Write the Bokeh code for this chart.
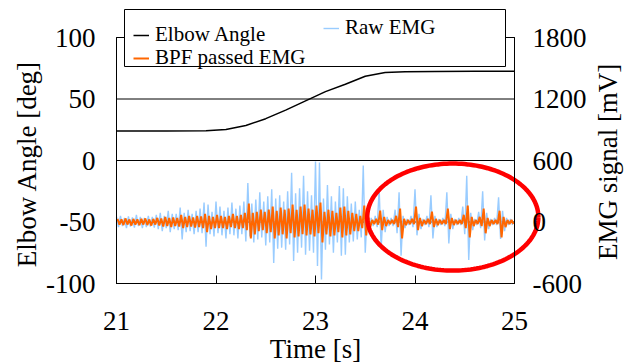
import numpy as np
from bokeh.plotting import figure
from bokeh.models import (Range1d, LinearAxis, FixedTicker, Legend, LegendItem,
                          Label, PrintfTickFormatter)
from bokeh.embed import file_html
from bokeh.resources import INLINE

# ---------------- data ----------------
# Elbow angle [deg] vs time [s]
angle_time = [21.0, 21.5, 21.9, 22.1, 22.3, 22.5, 22.7, 22.9, 23.1, 23.3,
              23.5, 23.7, 23.9, 24.2, 24.6, 25.0]
angle_deg = [24.0, 24.0, 24.2, 25.2, 28.5, 34.0, 41.0, 48.5, 56.0, 62.0,
             68.5, 71.5, 72.2, 72.4, 72.6, 72.6]

# EMG, read as max / min per 0.04 s window [mV]
emg_window_start = 21.0
emg_window = 0.04
raw_hi = [50, 60, 40, 55, 45, 70, 50, 40, 60, 50,
          70, 90, 60, 110, 80, 80, 140, 90, 120, 80,
          110, 130, 190, 170, 100, 200, 150, 110, 140, 190,
          130, 160, 200, 380, 180, 220, 290, 200, 250, 320,
          230, 260, 200, 300, 480, 280, 330, 450, 300, 260,
          590, 580, 230, 360, 250, 200, 350, 330, 250, 180,
          200, 120, 550, 100, 40, 60, 320, 120, 50, 40,
          120, 290, 60, 30, 60, 320, 80, 30, 60, 260,
          60, 30, 40, 290, 80, 30, 40, 150, 450, 90,
          30, 100, 300, 90, 30, 40, 240, 110, 40, 30]
raw_lo = [-50, -40, -60, -45, -55, -40, -60, -50, -45, -55,
          -70, -90, -60, -100, -70, -80, -170, -100, -90, -120,
          -100, -110, -240, -120, -140, -110, -130, -160, -120, -130,
          -160, -120, -190, -140, -200, -170, -150, -230, -200, -400,
          -260, -250, -270, -220, -380, -300, -250, -320, -280, -300,
          -430, -560, -270, -220, -300, -200, -330, -320, -200, -190,
          -170, -150, -300, -120, -40, -50, -260, -100, -40, -40,
          -110, -330, -60, -30, -50, -130, -70, -30, -50, -160,
          -50, -30, -40, -210, -70, -30, -30, -120, -370, -80,
          -30, -60, -180, -70, -30, -30, -165, -90, -30, -30]
bpf_hi = [30, 25, 35, 25, 30, 25, 30, 35, 25, 30,
          40, 35, 50, 40, 45, 40, 70, 50, 60, 45,
          60, 55, 80, 60, 50, 70, 60, 50, 60, 80,
          60, 70, 90, 180, 90, 100, 120, 100, 120, 150,
          110, 140, 120, 130, 170, 120, 150, 170, 130, 120,
          160, 190, 100, 120, 110, 90, 140, 150, 110, 90,
          80, 60, 160, 50, 20, 30, 110, 50, 20, 20,
          60, 130, 30, 20, 30, 150, 40, 20, 30, 100,
          30, 20, 20, 130, 40, 20, 20, 70, 160, 50,
          20, 50, 130, 40, 20, 20, 110, 50, 20, 20]
bpf_lo = [-25, -30, -25, -35, -25, -30, -25, -30, -35, -25,
          -35, -45, -40, -50, -40, -45, -60, -50, -45, -55,
          -50, -60, -100, -70, -60, -60, -60, -70, -50, -60,
          -70, -60, -80, -160, -120, -90, -80, -110, -100, -160,
          -130, -120, -160, -110, -150, -140, -120, -130, -120, -140,
          -110, -200, -120, -140, -130, -100, -150, -130, -120, -90,
          -90, -60, -130, -50, -20, -25, -80, -40, -20, -20,
          -50, -160, -30, -20, -20, -80, -40, -20, -20, -50,
          -30, -20, -20, -70, -30, -20, -20, -60, -150, -40,
          -20, -40, -110, -40, -20, -20, -150, -50, -20, -20]

x_ticks = [21, 22, 23, 24, 25]
angle_ticks = [-100, -50, 0, 50, 100]
emg_ticks = [-600, 0, 600, 1200, 1800]

# highlighted region (ellipse), in time [s] / angle-axis units
mark_center_t = 24.38
mark_center_deg = -46.0
mark_half_t = 0.86
mark_half_deg = 43.5

FONT = "Liberation Serif"
BLACK = "#000000"
RAW_COLOR = "#99CCFF"
BPF_COLOR = "#FF6600"

# ---------------- layout (pixels) ----------------
W, H = 628, 364
BOX_L, BOX_R, BOX_T, BOX_B = 116, 514, 37, 283   # visible plot box
LEG_L, LEG_R, LEG_T, LEG_B = 124, 505, 9, 66     # legend box
X0, X1 = x_ticks[0], x_ticks[-1]
A0, A1 = angle_ticks[0], angle_ticks[-1]
E0, E1 = emg_ticks[0], emg_ticks[-1]
sx = (X1 - X0) / (BOX_R - BOX_L)
sa = (A1 - A0) / (BOX_B - BOX_T)
se = (E1 - E0) / (BOX_B - BOX_T)


def px_x(px):
    return X0 + (px - BOX_L) * sx


def px_a(py):
    return A1 - (py - BOX_T) * sa


def px_e(py):
    return E1 - (py - BOX_T) * se


# the frame covers the whole canvas; axes sit at fixed locations inside it
p = figure(width=W, height=H, x_range=Range1d(px_x(0), px_x(W)),
           y_range=Range1d(px_a(H), px_a(0)),
           output_backend="svg", toolbar_location=None,
           min_border_left=0, min_border_right=0, min_border_top=0, min_border_bottom=0)
p.title.visible = False
p.background_fill_color = "white"
p.border_fill_color = "white"
p.outline_line_color = None
p.extra_y_ranges = {"emg": Range1d(px_e(H), px_e(0))}
p.xgrid.visible = False
p.ygrid.visible = False

# ---------------- zig-zag traces from min/max windows ----------------
n = len(raw_hi)
t0 = emg_window_start + emg_window * np.arange(n)
raw_t = np.column_stack([t0, t0 + emg_window / 2]).ravel()
raw_v = np.column_stack([raw_hi, raw_lo]).ravel()
bpf_t = np.column_stack([t0 + emg_window / 4, t0 + 3 * emg_window / 4]).ravel()
bpf_v = np.column_stack([bpf_hi, bpf_lo]).ravel()

# horizontal grid lines across the plot box
p.segment(x0=[X0] * len(angle_ticks), x1=[X1] * len(angle_ticks),
          y0=angle_ticks, y1=angle_ticks, line_color=BLACK, line_width=1)

r_raw = p.line(raw_t, raw_v, y_range_name="emg", line_color=RAW_COLOR, line_width=1.4)
r_bpf = p.line(bpf_t, bpf_v, y_range_name="emg", line_color=BPF_COLOR, line_width=2)
r_ang = p.line(angle_time, angle_deg, line_color=BLACK, line_width=1.5)

# plot box border
p.quad(left=[X0], right=[X1], bottom=[A0], top=[A1], fill_color=None,
       line_color=BLACK, line_width=1)
# legend box (covers the top of the plot box)
p.quad(left=[px_x(LEG_L)], right=[px_x(LEG_R)], bottom=[px_a(LEG_B)], top=[px_a(LEG_T)],
       fill_color="white", line_color=BLACK, line_width=1)

# red ellipse marking the periodic bursts
theta = np.linspace(0, 2 * np.pi, 181)
p.line(mark_center_t + mark_half_t * np.cos(theta),
       mark_center_deg + mark_half_deg * np.sin(theta),
       line_color="#FF0000", line_width=4.5)

# axes
p.xaxis.ticker = FixedTicker(ticks=x_ticks)
p.xaxis.bounds = (X0, X1)
p.xaxis.fixed_location = A0
p.xaxis.axis_label = "Time [s]"
p.yaxis.ticker = FixedTicker(ticks=angle_ticks)
p.yaxis.bounds = (A0, A1)
p.yaxis.fixed_location = X0
p.yaxis.formatter = PrintfTickFormatter(format="%d")
p.yaxis.axis_label = "Elbow Angle  [deg]"

right = LinearAxis(y_range_name="emg", ticker=FixedTicker(ticks=emg_ticks),
                   formatter=PrintfTickFormatter(format="%d"),
                   bounds=(E0, E1), fixed_location=X1)
p.add_layout(right, "right")

for ax in p.axis:
    ax.major_label_text_font = FONT
    ax.major_label_text_font_size = "27px"
    ax.major_label_text_color = BLACK
    ax.axis_label_text_font = FONT
    ax.axis_label_text_font_size = "27px"
    ax.axis_label_text_font_style = "normal"
    ax.axis_label_text_color = BLACK
    ax.axis_line_color = BLACK
    ax.minor_tick_line_color = None
    ax.major_tick_line_color = BLACK

p.xaxis.major_tick_in = 8
p.xaxis.major_tick_out = 0
p.xaxis.major_label_standoff = 28
p.xaxis.axis_label_standoff = 1
p.yaxis.major_tick_in = 0
p.yaxis.major_tick_out = 0
p.yaxis.major_label_standoff = 21
p.yaxis.axis_label_standoff = 1
right.major_tick_in = 0
right.major_tick_out = 0
right.major_label_standoff = 18

emg_label = Label(x=px_x(607), y=px_a((BOX_T + BOX_B) / 2 - 2),
                  text="EMG signal  [mV]", angle=np.pi / 2,
                  text_align="center", text_baseline="middle",
                  text_font=FONT, text_font_size="27px", text_color=BLACK)
p.add_layout(emg_label)

# legends: one borderless single-row legend per entry, inside the legend box
entries = [("Elbow Angle", r_ang, 133, 47),
           ("Raw EMG", r_raw, 323, 40),
           ("BPF passed EMG", r_bpf, 133, 70)]
for label, rend, left_px, bottom_px in entries:
    lg = Legend(items=[LegendItem(label=label, renderers=[rend])],
                location=(left_px, H - bottom_px), orientation="vertical")
    lg.label_text_font = FONT
    lg.label_text_font_size = "21px"
    lg.label_text_color = BLACK
    lg.glyph_width = 16
    lg.label_standoff = 6
    lg.padding = 0
    lg.spacing = 0
    lg.margin = 0
    lg.border_line_color = None
    lg.background_fill_alpha = 0
    p.add_layout(lg, "center")

open("out.html", "w").write(file_html(p, INLINE))
